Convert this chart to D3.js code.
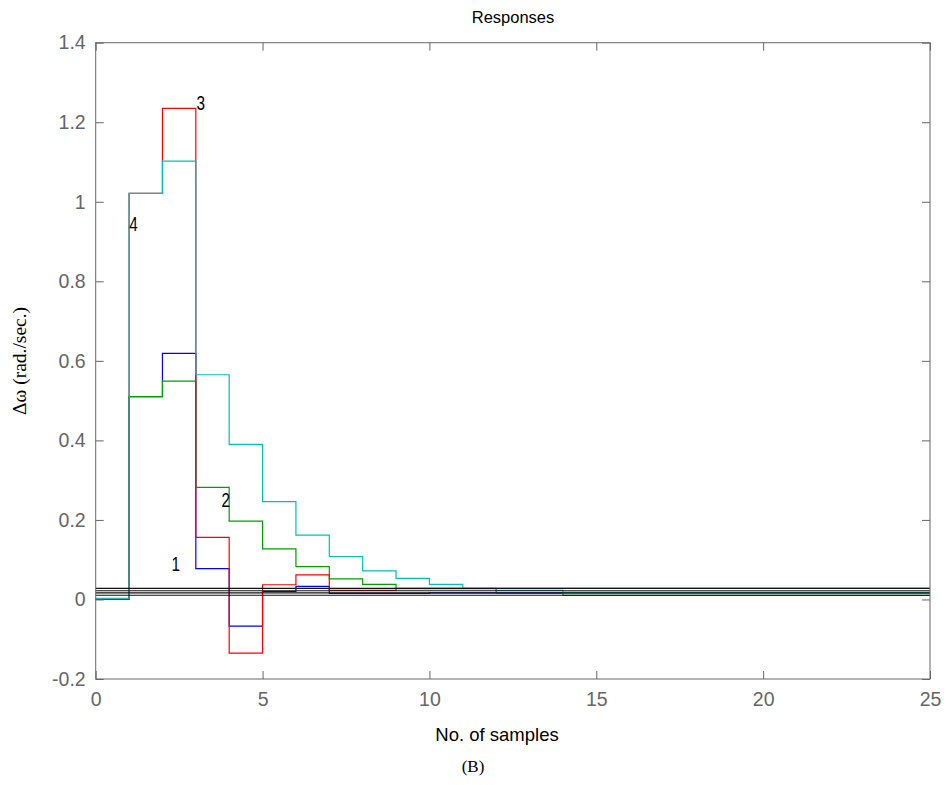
<!DOCTYPE html>
<html><head><meta charset="utf-8">
<script src="https://cdn.jsdelivr.net/npm/d3@7"></script>
<style>body{margin:0;background:#fff}svg{display:block}</style>
</head><body>
<svg id="c" width="946" height="785"></svg>
<script>
// ---- data ----
const samples = d3.range(0, 25); // interval k..k+1
const series1 = [0.0, 0.51, 0.619, 0.0775, -0.067, 0.02, 0.033, 0.0155, 0.0155, 0.0155, 0.0165, 0.0165, 0.0165, 0.0165, 0.0165, 0.0165, 0.0165, 0.0165, 0.0165, 0.0165, 0.0165, 0.0165, 0.0165, 0.0165, 0.0165];
const series2 = [0.0, 0.51, 0.549, 0.282, 0.197, 0.127, 0.0825, 0.052, 0.038, 0.027, 0.027, 0.027, 0.015, 0.015, 0.0105, 0.0105, 0.0105, 0.0105, 0.0105, 0.0105, 0.0105, 0.0105, 0.0105, 0.0105, 0.0105];
const series3 = [0.0, 1.021, 1.235, 0.156, -0.135, 0.037, 0.062, 0.023, 0.023, 0.028, 0.028, 0.028, 0.028, 0.028, 0.028, 0.028, 0.028, 0.028, 0.028, 0.028, 0.028, 0.028, 0.028, 0.028, 0.028];
const series4 = [0.003, 1.021, 1.102, 0.565, 0.39, 0.246, 0.162, 0.108, 0.072, 0.053, 0.038, 0.028, 0.023, 0.023, 0.018, 0.018, 0.018, 0.018, 0.018, 0.018, 0.018, 0.018, 0.018, 0.018, 0.018];
const seriesColors = ["#0000ff", "#00a000", "#ff0000", "#00bfbf"];
const refLevels = [0.028, 0.022, 0.0165, 0.0105];
const curveLabels = [
  {text: "1", x: 2.4, y: 0.085},
  {text: "2", x: 3.9, y: 0.245},
  {text: "3", x: 3.15, y: 1.245},
  {text: "4", x: 1.13, y: 0.94}
];
const xTicks = [0, 5, 10, 15, 20, 25];
const yTicks = [-0.2, 0, 0.2, 0.4, 0.6, 0.8, 1, 1.2, 1.4];
const yTickLabels = ["-0.2", "0", "0.2", "0.4", "0.6", "0.8", "1", "1.2", "1.4"];

// ---- layout ----
const svg = d3.select("#c");
const L = 95.7, R = 930, T = 42.7, B = 679;
const x = d3.scaleLinear().domain([0, 25]).range([L, R]);
const y = d3.scaleLinear().domain([-0.2, 1.4]).range([B, T]);
const axisColor = "#666";

// plot
const allSeries = [series1, series2, series3, series4];
const line = d3.line().x(d => x(d[0])).y(d => y(d[1])).curve(d3.curveStepAfter);
allSeries.forEach((s, i) => {
  const pts = samples.map(k => [k, s[k]]);
  pts.push([25, s[s.length - 1]]);
  svg.append("path").attr("d", line(pts)).attr("fill", "none")
    .attr("stroke", seriesColors[i]).attr("stroke-width", 1.2);
});
refLevels.forEach(v => {
  svg.append("line").attr("x1", x(0)).attr("x2", x(25)).attr("y1", y(v)).attr("y2", y(v))
    .attr("stroke", "#111").attr("stroke-width", 1.1);
});

// frame
svg.append("rect").attr("x", L).attr("y", T).attr("width", R - L).attr("height", B - T)
  .attr("fill", "none").attr("stroke", axisColor).attr("stroke-width", 1);

const tickLen = 8;
const xb = d3.axisBottom(x).tickValues(xTicks).tickSize(-tickLen).tickPadding(13).tickFormat(d3.format("d"));
const gx = svg.append("g").attr("transform", `translate(0,${B})`).call(xb);
const xt = d3.axisTop(x).tickValues(xTicks).tickSize(-tickLen).tickFormat("");
const gxt = svg.append("g").attr("transform", `translate(0,${T})`).call(xt);
const yl = d3.axisLeft(y).tickValues(yTicks).tickSize(-tickLen).tickPadding(10).tickFormat((d, i) => yTickLabels[i]);
const gy = svg.append("g").attr("transform", `translate(${L},0)`).call(yl);
const yr = d3.axisRight(y).tickValues(yTicks).tickSize(-tickLen).tickFormat("");
const gyr = svg.append("g").attr("transform", `translate(${R},0)`).call(yr);
[gx, gxt, gy, gyr].forEach(g => {
  g.select(".domain").remove();
  g.selectAll("line").attr("stroke", axisColor);
  g.selectAll("text").attr("fill", axisColor).style("font-family", "Liberation Sans, Arial, sans-serif").style("font-size", "19.5px");
});

// curve labels
curveLabels.forEach(l => {
  svg.append("text").attr("transform", `translate(${x(l.x)},${y(l.y)}) scale(0.85,1.1)`).text(l.text)
    .attr("fill", "#000").style("font-family", "Liberation Sans, Arial, sans-serif").style("font-size", "18px")
    .attr("text-anchor", "middle").attr("dominant-baseline", "middle");
});

// titles
svg.append("text").attr("x", 513).attr("y", 23).attr("text-anchor", "middle")
  .style("font-family", "Liberation Sans, Arial, sans-serif").style("font-size", "16.5px").text("Responses");
svg.append("text").attr("x", 497).attr("y", 741).attr("text-anchor", "middle")
  .style("font-family", "Liberation Sans, Arial, sans-serif").style("font-size", "18.5px").text("No. of samples");
svg.append("text").attr("x", 473).attr("y", 772).attr("text-anchor", "middle")
  .style("font-family", "Liberation Serif, Times New Roman, serif").style("font-size", "17px").text("(B)");
svg.append("text").attr("transform", `translate(26,361) rotate(-90)`).attr("text-anchor", "middle")
  .style("font-family", "Liberation Serif, Times New Roman, serif").style("font-size", "19.5px").text("Δω (rad./sec.)");
</script>
</body></html>
